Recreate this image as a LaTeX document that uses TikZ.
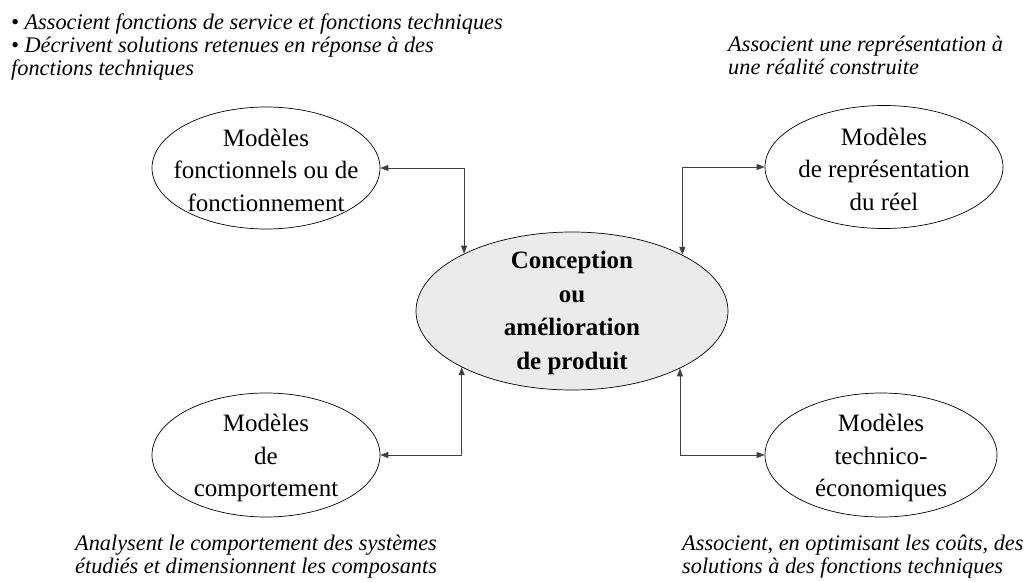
\documentclass[tikz,border=0pt]{standalone}
\usepackage{fontspec}
\setmainfont{Liberation Serif}
\usetikzlibrary{shapes.geometric,arrows.meta}
\definecolor{centerfill}{HTML}{EBEBEB}
\definecolor{linegray}{HTML}{404040}
\begin{document}
\begin{tikzpicture}[x=1pt,y=-1pt,
  model/.style={ellipse, draw=black, line width=0.7pt, inner sep=0pt, fill=white},
  modeltext/.style={align=center, inner sep=0pt, font=\fontsize{25}{32.5}\selectfont},
  centertext/.style={align=center, inner sep=0pt, font=\fontsize{25}{33.5}\selectfont\bfseries},
  note/.style={align=left, inner sep=0pt, anchor=north west, font=\fontsize{22.3}{23}\selectfont\itshape},
  conn/.style={draw=linegray, line width=0.9pt, {Triangle[length=8pt,width=6pt]}-{Triangle[length=8pt,width=6pt]}}
]
\useasboundingbox (0,0) rectangle (1027,581);
\fill[white] (0,0) rectangle (1027,581);

\node[model, minimum width=312pt, minimum height=158pt, fill=centerfill] (c) at (572,311) {};
\node[centertext] (ct) at ([yshift=-2pt]c.center) {Conception\\ou\\amélioration\\de produit};

\node[model, minimum width=228pt, minimum height=122pt] (tl) at (266,168) {};
\node[modeltext] (tlt) at ([yshift=-2pt]tl.center) {Modèles\\fonctionnels ou de\\fonctionnement};

\node[model, minimum width=238pt, minimum height=123pt] (tr) at (884,167) {};
\node[modeltext] (trt) at ([yshift=-2pt]tr.center) {Modèles\\de représentation\\du réel};

\node[model, minimum width=228pt, minimum height=124pt] (bl) at (266,455) {};
\node[modeltext] (blt) at ([yshift=-3pt]bl.center) {Modèles\\de\\comportement};

\node[model, minimum width=232pt, minimum height=124pt] (br) at (881,455) {};
\node[modeltext] (brt) at ([yshift=-3pt]br.center) {Modèles\\technico-\\économiques};

\draw[conn] (tl.east) -| (c.152.6);
\draw[conn] (tr.west) -| (c.27.4);
\draw[conn] (bl.east) -| (c.207.4);
\draw[conn] (br.west) -| (c.332.6);

\node[note] (ntl) at (11,14) {• Associent fonctions de service et fonctions techniques\\• Décrivent solutions retenues en réponse à des\\fonctions techniques};
\node[note] (ntr) at (728,36) {Associent une représentation à\\une réalité construite};
\node[note] (nbl) at (75,535) {Analysent le comportement des systèmes\\étudiés et dimensionnent les composants};
\node[note] (nbr) at (682,535) {Associent, en optimisant les coûts, des\\solutions à des fonctions techniques};
\end{tikzpicture}
\end{document}
